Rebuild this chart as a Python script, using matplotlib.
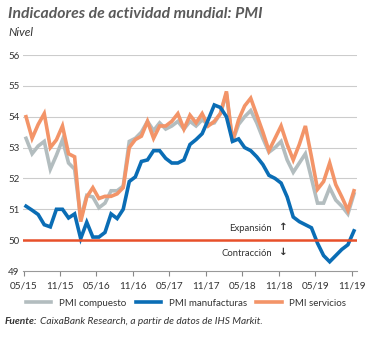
import matplotlib
matplotlib.use("Agg")
import matplotlib.pyplot as plt
import numpy as np
from matplotlib.lines import Line2D

plt.rcParams['font.family'] = ['Lato', 'DejaVu Sans']

# Monthly data, May 2015 .. Nov 2019
compuesto = [53.3, 52.8, 53.05, 53.2, 52.3, 52.75, 53.25, 52.5, 52.3, 50.7,
             51.45, 51.4, 51.05, 51.2, 51.6, 51.6, 51.75, 53.2, 53.3, 53.5,
             53.85, 53.55, 53.8, 53.6, 53.7, 53.85, 53.6, 53.85, 53.7, 53.9,
             53.75, 53.8, 54.1, 54.75, 53.2, 53.75, 54.0, 54.2, 53.8, 53.3,
             52.85, 53.0, 53.2, 52.6, 52.2, 52.5, 52.8, 52.0, 51.2, 51.2,
             51.7, 51.3, 51.1, 50.85, 51.5]
manufacturas = [51.1, 50.97, 50.83, 50.5, 50.43, 51.0, 51.0, 50.72, 50.85, 50.05,
                50.58, 50.1, 50.1, 50.25, 50.85, 50.7, 51.0, 51.9, 52.05, 52.55,
                52.6, 52.9, 52.9, 52.65, 52.5, 52.5, 52.6, 53.1, 53.26, 53.45,
                53.9, 54.38, 54.3, 54.0, 53.2, 53.28, 53.0, 52.9, 52.7, 52.45,
                52.1, 52.0, 51.85, 51.4, 50.75, 50.6, 50.5, 50.4, 49.9, 49.5,
                49.3, 49.5, 49.7, 49.85, 50.3]
servicios = [54.0, 53.3, 53.75, 54.1, 53.0, 53.25, 53.7, 52.8, 52.7, 50.6,
             51.4, 51.7, 51.35, 51.42, 51.42, 51.5, 51.7, 53.0, 53.26, 53.37,
             53.85, 53.3, 53.7, 53.7, 53.85, 54.1, 53.6, 54.05, 53.8, 54.1,
             53.7, 53.85, 54.1, 54.82, 53.2, 53.9, 54.35, 54.6, 54.05, 53.5,
             52.9, 53.3, 53.7, 53.1, 52.6, 53.1, 53.7, 52.7, 51.65, 51.9,
             52.5, 51.8, 51.4, 50.97, 51.6]
xticklabels = ['05/15', '11/15', '05/16', '11/16', '05/17', '11/17',
               '05/18', '11/18', '05/19', '11/19']
yticks = [49, 50, 51, 52, 53, 54, 55, 56]

c_gray = '#B3BDBF'
c_blue = '#0A6DB5'
c_orange = '#F39468'
c_red = '#E8502A'
c_text = '#333333'

W, H = 370, 338
fig = plt.figure(figsize=(W / 100, H / 100), dpi=100)
ax = fig.add_axes([23 / W, 1 - 271 / H, (357 - 23) / W, (271 - 55) / H])

x = np.arange(len(compuesto))
ax.set_xlim(-0.5, len(compuesto) - 0.5)
ax.set_ylim(49, 56)

for y in yticks[1:]:
    ax.axhline(y, color='#CCCCCC', lw=0.8, zorder=1)

ax.plot(x, compuesto, color=c_gray, lw=2.6, zorder=3, solid_joinstyle='miter')
ax.plot(x, manufacturas, color=c_blue, lw=2.6, zorder=4, solid_joinstyle='miter')
ax.plot(x, servicios, color=c_orange, lw=2.6, zorder=3, solid_joinstyle='miter')
ax.axhline(50, color=c_red, lw=1.8, zorder=5)

ax.set_yticks(yticks)
ax.set_yticklabels([str(v) for v in yticks])
ax.tick_params(axis='y', length=0, pad=10.8, labelsize=7, labelcolor=c_text)
for lab in ax.get_yticklabels():
    lab.set_horizontalalignment('left')

ax.set_xticks(np.arange(0, len(compuesto), 6) - 0.4)
ax.set_xticklabels(xticklabels)
ax.tick_params(axis='x', length=3.5, width=0.8, color='#888888', pad=4,
               labelsize=7.2, labelcolor=c_text)

for s in ['top', 'right', 'left']:
    ax.spines[s].set_visible(False)
ax.spines['bottom'].set_color('#999999')
ax.spines['bottom'].set_linewidth(0.8)

ax.text(0.746, 0.199, 'Expansión', transform=ax.transAxes, ha='right',
        va='center', fontsize=6.8, color=c_text)
ax.text(0.781, 0.203, '↑', transform=ax.transAxes, ha='center',
        va='center', fontsize=7.5, fontweight='bold', color=c_text,
        family=['DejaVu Sans'])
ax.text(0.746, 0.083, 'Contracción', transform=ax.transAxes, ha='right',
        va='center', fontsize=6.8, color=c_text)
ax.text(0.781, 0.087, '↓', transform=ax.transAxes, ha='center',
        va='center', fontsize=7.5, fontweight='bold', color=c_text,
        family=['DejaVu Sans'])

fig.text(8 / W, 1 - 14 / H, 'Indicadores de actividad mundial: PMI',
         fontsize=11.3, fontweight='bold', style='italic', color='#5A5A5A',
         va='center', ha='left')
fig.text(8 / W, 1 - 33 / H, 'Nivel', fontsize=8.5, style='italic',
         color=c_text, va='center', ha='left')

# legend
handles = [Line2D([], [], color=c_gray, lw=2.6),
           Line2D([], [], color=c_blue, lw=2.6),
           Line2D([], [], color=c_orange, lw=2.6)]
fig.legend(handles, ['PMI compuesto', 'PMI manufacturas', 'PMI servicios'],
           loc='center', bbox_to_anchor=(186 / W, 1 - 303 / H), ncol=3,
           frameon=False, fontsize=7, handlelength=2.6, handletextpad=0.8,
           columnspacing=1.0, labelcolor=c_text)

t1 = fig.text(5 / W, 1 - 322 / H, 'Fuente:', fontsize=7.3, fontweight='bold',
              style='italic', color=c_text, va='center', ha='left')
fig.canvas.draw()
bb = t1.get_window_extent()
fig.text(bb.x1 / W + 2 / W, 1 - 322 / H,
         'CaixaBank Research, a partir de datos de IHS Markit.',
         fontsize=7.3, style='italic', color=c_text, va='center', ha='left')

fig.savefig('out.png', dpi=100)
